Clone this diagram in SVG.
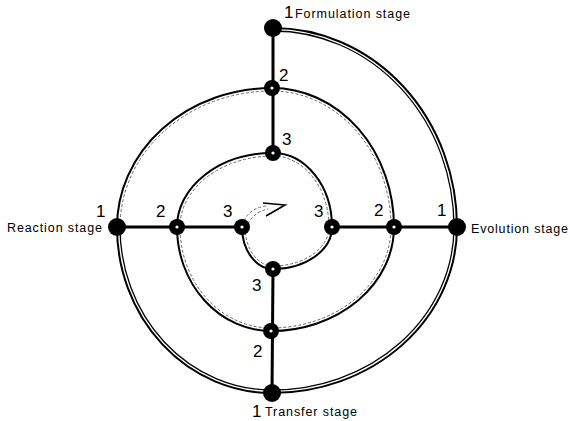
<svg xmlns="http://www.w3.org/2000/svg" width="570" height="421" viewBox="0 0 570 421">
<style>
.sp{fill:none;stroke:#000;stroke-width:2}
.in{fill:none;stroke:#000;stroke-width:1.3}
.dt{fill:none;stroke:#666;stroke-width:1;stroke-dasharray:3 2}
.spoke{stroke:#000;stroke-width:3}
.n1{fill:#000}
.n{fill:#000}
.c{fill:#fff}
.num{font-family:"Liberation Sans",Arial,sans-serif;font-size:17px;fill:#000}
.lab{font-family:"Liberation Sans",Arial,sans-serif;font-size:12.5px;fill:#000}
</style>
<rect width="570" height="421" fill="#fff"/>
<g id="connectors">
<path class="sp" d="M273,28 A184,199 0 0 1 457,227 A185,166 0 0 1 272,393 A155,166 0 0 1 117,227 A155,139 0 0 1 272,88 A122,139 0 0 1 394,227 A123,104 0 0 1 271,331 A94,104 0 0 1 177,227 A96,74 0 0 1 273,153 A59,74 0 0 1 332,227 A59,42 0 0 1 273,269 A31,42 0 0 1 242,227"/>
<path class="in" d="M273,31 A181,196 0 0 1 454,227 A182,163 0 0 1 272,390 A152,163 0 0 1 120,227"/>
<path class="dt" d="M120,227 A152,136 0 0 1 272,91 A119,136 0 0 1 391,227 A120,101 0 0 1 271,328 A91,101 0 0 1 180,227 A93,71 0 0 1 273,156 A56,71 0 0 1 329,227 A56,39 0 0 1 273,266 A28,39 0 0 1 245,227"/>
<path class="dt" d="M244,221 Q250,208 266,206" stroke="#000" stroke-width="1.3"/>
<path class="dt" d="M248,224 Q254,212 268,209"/>
<path fill="none" stroke="#000" stroke-width="1.6" d="M263,203 L285,205 L266,216"/>
<line class="spoke" x1="273" y1="28" x2="273" y2="153"/>
<line class="spoke" x1="117" y1="227" x2="242" y2="227"/>
<line class="spoke" x1="332" y1="227" x2="457" y2="227"/>
<line class="spoke" x1="273" y1="269" x2="272" y2="393"/>
</g>
<g id="formulation">
<circle class="n1" cx="273" cy="28" r="9"/>
<text class="num" x="284" y="18">1</text>
<text class="lab" x="295" y="18" textLength="115">Formulation stage</text>
</g>
<g id="evolution">
<circle class="n1" cx="457" cy="227" r="9"/>
<text class="num" x="437" y="216">1</text>
<text class="lab" x="471" y="233" textLength="97">Evolution stage</text>
</g>
<g id="transfer">
<circle class="n1" cx="272" cy="393" r="9"/>
<text class="num" x="252" y="417">1</text>
<text class="lab" x="265" y="416" textLength="92">Transfer stage</text>
</g>
<g id="reaction">
<circle class="n1" cx="117" cy="227" r="9"/>
<text class="num" x="96" y="217">1</text>
<text class="lab" x="7" y="232" textLength="95">Reaction stage</text>
</g>
<g id="top2"><circle class="n" cx="272" cy="88" r="8"/><circle class="c" cx="272" cy="88" r="1.6"/><text class="num" x="279" y="81">2</text></g>
<g id="right2"><circle class="n" cx="394" cy="227" r="8"/><circle class="c" cx="394" cy="227" r="1.6"/><text class="num" x="374" y="216">2</text></g>
<g id="bottom2"><circle class="n" cx="271" cy="331" r="8"/><circle class="c" cx="271" cy="331" r="1.6"/><text class="num" x="253" y="357">2</text></g>
<g id="left2"><circle class="n" cx="177" cy="227" r="8"/><circle class="c" cx="177" cy="227" r="1.6"/><text class="num" x="156" y="217">2</text></g>
<g id="top3"><circle class="n" cx="273" cy="153" r="8"/><circle class="c" cx="273" cy="153" r="1.6"/><text class="num" x="282" y="145">3</text></g>
<g id="right3"><circle class="n" cx="332" cy="227" r="8"/><circle class="c" cx="332" cy="227" r="1.6"/><text class="num" x="314" y="217">3</text></g>
<g id="bottom3"><circle class="n" cx="273" cy="269" r="8"/><circle class="c" cx="273" cy="269" r="1.6"/><text class="num" x="252" y="291">3</text></g>
<g id="left3"><circle class="n" cx="242" cy="227" r="8"/><circle class="c" cx="242" cy="227" r="1.6"/><text class="num" x="223" y="217">3</text></g>
</svg>
